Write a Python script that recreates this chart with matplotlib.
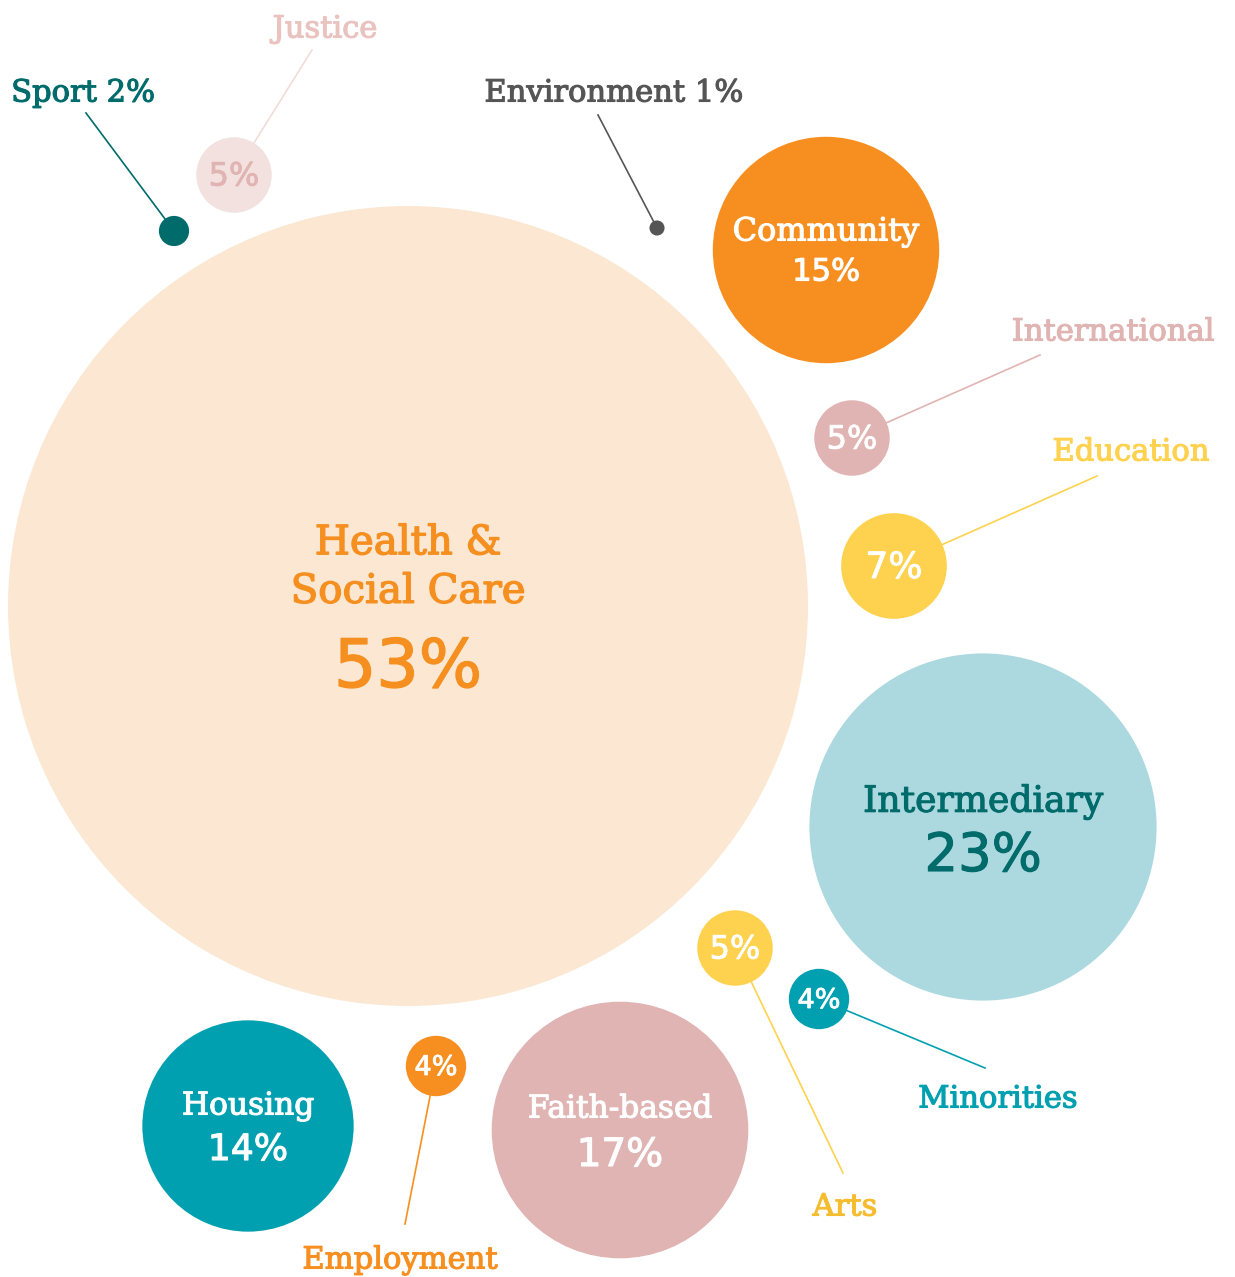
import matplotlib.pyplot as plt
from matplotlib.patches import Circle
import matplotlib.patheffects as pe

# data: share of organisations by sector (%)
sectors = ['Health &\nSocial Care', 'Intermediary', 'Faith-based', 'Community', 'Housing',
           'Education', 'International', 'Justice', 'Arts', 'Minorities', 'Employment',
           'Sport', 'Environment']
shares = [53, 23, 17, 15, 14, 7, 5, 5, 5, 4, 4, 2, 1]

# layout (pixel coords, y down) -- bubble radius is proportional to share
centers = [(408, 606), (983, 827), (620, 1130), (826, 250), (248, 1126),
           (894, 566), (852, 438), (234, 175), (735, 948), (819, 999), (436, 1066),
           (174, 231), (657, 228)]
fills = ['#fce7d2', '#acd9df', '#e0b4b2', '#f78f20', '#00a0b0',
         '#fed24f', '#e0b4b2', '#f2e1df', '#fed24f', '#00a0b0', '#f78f20',
         '#006b6b', '#555555']
txtcol = ['#f58f20', '#006b6b', 'white', 'white', 'white',
          'white', 'white', '#e0b4b2', 'white', 'white', 'white', None, None]
PX_PER_PCT = 400/53.

# outside labels: (text, text pos, line start, text colour, line colour)
callouts = {
    'Justice': ('Justice', (325, 29), (312, 50), '#e9c3bf', '#f1dcd9'),
    'Sport': ('Sport 2%', (83, 93), (86, 113), '#006b6b', '#006b6b'),
    'Environment': ('Environment 1%', (614, 93), (598, 115), '#555555', '#555555'),
    'International': ('International', (1113, 332), (1040, 355), '#e0b4b2', '#e0b4b2'),
    'Education': ('Education', (1131, 452), (1097, 476), '#fed24f', '#fed24f'),
    'Minorities': ('Minorities', (998, 1099), (985, 1068), '#00a0b0', '#00a0b0'),
    'Arts': ('Arts', (845, 1207), (843, 1173), '#f5bd2e', '#fed24f'),
    'Employment': ('Employment', (400, 1260), (405, 1224), '#f78f20', '#f78f20'),
}

fig = plt.figure(figsize=(12.35, 12.77), dpi=100)
ax = fig.add_axes([0, 0, 1, 1])
ax.set_xlim(0, 1235)
ax.set_ylim(1277, 0)
ax.set_aspect('equal')
ax.axis('off')

SERIF = 'DejaVu Serif'


def thick(col, w=0.8):
    return [pe.withStroke(linewidth=w, foreground=col)]


for name, val, c, fc, tc in zip(sectors, shares, centers, fills, txtcol):
    ax.add_patch(Circle(c, val*PX_PER_PCT, facecolor=fc, edgecolor='none', zorder=2))
    if name in callouts:
        lab, tpos, lstart, lcol, linecol = callouts[name]
        ax.plot([lstart[0], c[0]], [lstart[1], c[1]], color=linecol, lw=1.2, zorder=1)
        ax.text(tpos[0], tpos[1], lab, color=lcol, fontsize=22, family=SERIF,
                ha='center', va='center', path_effects=thick(lcol))
    if tc is None:
        continue
    pct = '%d%%' % val
    if name.startswith('Health'):
        ax.text(c[0], c[1]-38, name, color=tc, fontsize=29, family=SERIF,
                ha='center', va='center', linespacing=1.4, path_effects=thick(tc, 1))
        ax.text(c[0], c[1]+62, pct, color=tc, fontsize=48, family='DejaVu Sans',
                ha='center', va='center', path_effects=thick(tc, 1))
    elif val >= 14:
        fs = {'Intermediary': 26, 'Faith-based': 22.5, 'Community': 23, 'Housing': 22.5}[name]
        pfs = {'Intermediary': 38, 'Faith-based': 28, 'Community': 22, 'Housing': 26}[name]
        off = {'Intermediary': 27, 'Faith-based': 23, 'Community': 20, 'Housing': 22}[name]
        ax.text(c[0], c[1]-off+2, name, color=tc, fontsize=fs, family=SERIF,
                ha='center', va='center', path_effects=thick(tc))
        ax.text(c[0], c[1]+off+2, pct, color=tc, fontsize=pfs, family='DejaVu Sans',
                ha='center', va='center', path_effects=thick(tc))
    else:
        fs = 26 if val == 7 else (23 if val == 5 else 19.5)
        ax.text(c[0], c[1]+2, pct, color=tc, fontsize=fs, family='DejaVu Sans',
                ha='center', va='center', path_effects=thick(tc, 0.6))

fig.savefig('out.png', dpi=100, facecolor='white')
